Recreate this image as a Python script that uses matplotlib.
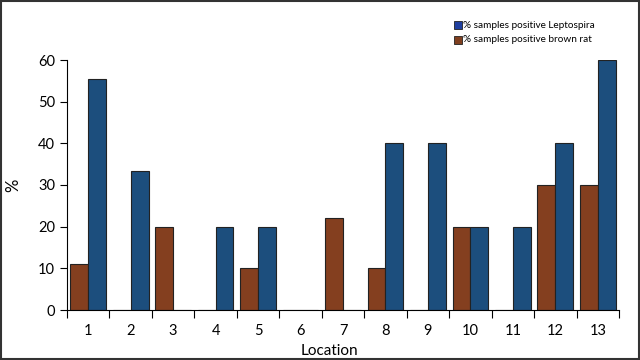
import matplotlib
matplotlib.use("Agg")
import matplotlib.pyplot as plt
from matplotlib.patches import Rectangle
import numpy as np

locations = ["1", "2", "3", "4", "5", "6", "7", "8", "9", "10", "11", "12", "13"]
brown_rat = [11, 0, 20, 0, 10, 0, 22, 10, 0, 20, 0, 30, 30]
leptospira = [55.5, 33.3, 0, 20, 20, 0, 0, 40, 40, 20, 20, 40, 60]

plt.rcParams['font.family'] = ['Lato', 'DejaVu Sans']

fig = plt.figure(figsize=(6.4, 3.6), dpi=100)
ax = fig.add_axes([67/640, 1-310/360, (619-67)/640, 250/360])

x = np.arange(len(locations))
w = 0.42
blue = '#1c4e7d'
brown = '#843f1f'
ax.bar(x - w/2, brown_rat, width=w, color=brown, edgecolor='#222222', linewidth=0.8, zorder=2)
ax.bar(x + w/2, leptospira, width=w, color=blue, edgecolor='#222222', linewidth=0.8, zorder=2)

ax.set_xlim(-0.5, len(locations) - 0.5)
ax.set_ylim(0, 60)
ax.set_yticks([0, 10, 20, 30, 40, 50, 60])
ax.tick_params(axis='y', labelsize=10.5, length=5, width=0.8, direction='out')
ax.set_xticks(x)
ax.set_xticklabels(locations)
ax.tick_params(axis='x', which='major', length=0, labelsize=10.5, pad=10)
ax.set_xticks(np.arange(-0.5, len(locations)), minor=True)
ax.tick_params(axis='x', which='minor', length=6, width=0.8, direction='out')
for s in ['top', 'right']:
    ax.spines[s].set_visible(False)
for s in ['left', 'bottom']:
    ax.spines[s].set_linewidth(0.8)

ax.set_ylabel('%', fontsize=12)
ax.yaxis.set_label_coords(-0.083, 0.5)
ax.set_xlabel('Location', fontsize=11)
ax.xaxis.set_label_coords(0.475, -0.135)

# legend
fig.text(463/640, 1-25/360, '% samples positive Leptospira', fontsize=7.2, va='center', ha='left')
fig.text(463/640, 1-40/360, '% samples positive brown rat', fontsize=7.2, va='center', ha='left')
fig.patches.append(Rectangle((454/640, 1-29/360), 8/640, 8/360, transform=fig.transFigure,
                             facecolor='#1f3f9f', edgecolor='#222222', linewidth=0.6))
fig.patches.append(Rectangle((454/640, 1-44/360), 8/640, 8/360, transform=fig.transFigure,
                             facecolor='#7f3f1f', edgecolor='#222222', linewidth=0.6))

# figure border
fig.patches.append(Rectangle((0.0015, 0.003), 0.997, 0.994, transform=fig.transFigure,
                             fill=False, edgecolor='#333333', linewidth=1.5))

fig.savefig('out.png', dpi=100)
